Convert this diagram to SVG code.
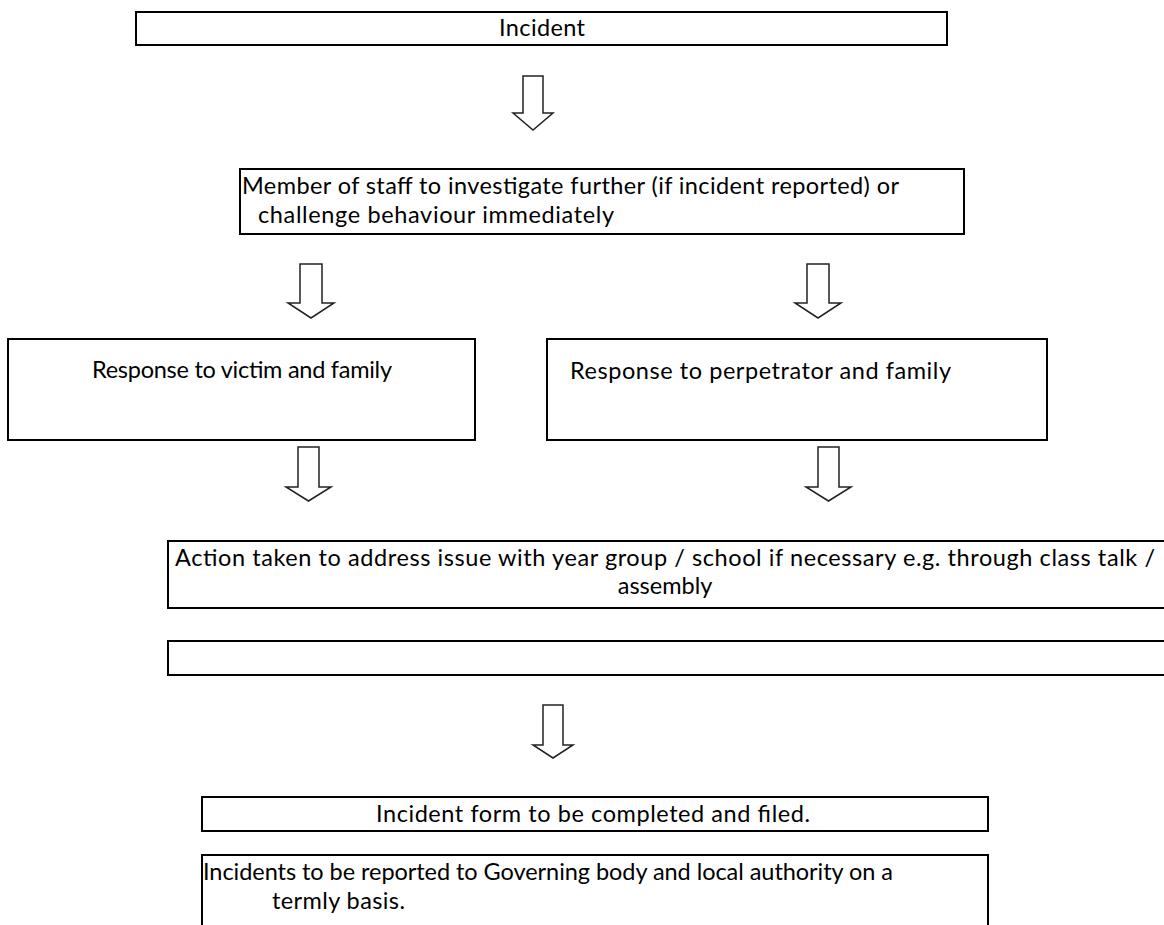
<svg xmlns="http://www.w3.org/2000/svg" width="1164" height="925" viewBox="0 0 1164 925">
<style>
.box{fill:#fff;stroke:#000;stroke-width:2}
.t{font-family:Lato,"Open Sans","Liberation Sans",sans-serif;font-size:23.5px;fill:#000}
.arr{fill:#fff;stroke:#222;stroke-width:1.5;stroke-linejoin:miter}
</style>
<rect width="1164" height="925" fill="#fff"/>
<g id="connectors">
<path class="arr" d="M523,76 H543 V113 H553 L533,130 L513,113 H523 Z"/>
<path class="arr" d="M300,264 H322 V303 H334 L311,318 L288,303 H300 Z"/>
<path class="arr" d="M807,264 H829 V303 H841 L818,318 L795,303 H807 Z"/>
<path class="arr" d="M298,447 H319 V487 H331 L308.5,501 L286,487 H298 Z"/>
<path class="arr" d="M818,447 H839 V487 H851 L828.5,501 L806,487 H818 Z"/>
<path class="arr" d="M543,705 H563 V745 H573 L553,758 L533,745 H543 Z"/>
</g>
<g id="n1"><rect class="box" x="136" y="12" width="811" height="33"/>
<text class="t" x="542" y="36" text-anchor="middle" textLength="86">Incident</text></g>
<g id="n2"><rect class="box" x="240" y="169" width="724" height="65"/>
<text class="t" x="242" y="194" textLength="657">Member of staff to investigate further (if incident reported) or</text>
<text class="t" x="258" y="223" textLength="356">challenge behaviour immediately</text></g>
<g id="n3"><rect class="box" x="8" y="339" width="467" height="101"/>
<text class="t" x="92" y="378" textLength="300">Response to victim and family</text></g>
<g id="n4"><rect class="box" x="547" y="339" width="500" height="101"/>
<text class="t" x="570" y="379" textLength="381">Response to perpetrator and family</text></g>
<g id="n5"><rect class="box" x="168" y="541" width="1000" height="67"/>
<text class="t" x="175" y="566" textLength="980">Action taken to address issue with year group / school if necessary e.g. through class talk /</text>
<text class="t" x="665" y="594" text-anchor="middle">assembly</text></g>
<g id="n6"><rect class="box" x="168" y="641" width="1000" height="34"/></g>
<g id="n7"><rect class="box" x="202" y="797" width="786" height="34"/>
<text class="t" x="593" y="822" text-anchor="middle" textLength="434">Incident form to be completed and filed.</text></g>
<g id="n8"><rect class="box" x="202" y="855" width="786" height="80"/>
<text class="t" x="203" y="880" textLength="690">Incidents to be reported to Governing body and local authority on a</text>
<text class="t" x="272" y="909" textLength="133">termly basis.</text></g>
</svg>
